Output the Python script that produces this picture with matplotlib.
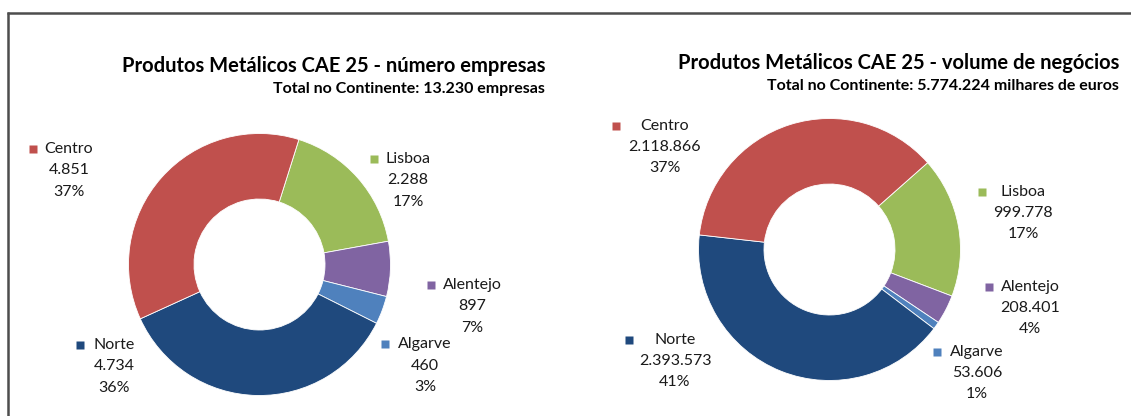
import matplotlib
matplotlib.use("Agg")
import matplotlib.pyplot as plt

# ---------------- data ----------------
regions = ["Norte", "Centro", "Lisboa", "Alentejo", "Algarve"]
empresas = [4734, 4851, 2288, 897, 460]
negocios = [2393573, 2118866, 999778, 208401, 53606]

title_left = "Produtos Metálicos CAE 25 - número empresas"
sub_left = "Total no Continente: 13.230 empresas"
title_right = "Produtos Metálicos CAE 25 - volume de negócios"
sub_right = "Total no Continente: 5.774.224 milhares de euros"

# ---------------- style ----------------
colors = {"Norte": "#1F497D", "Centro": "#C0504D", "Lisboa": "#9BBB59",
          "Alentejo": "#8064A2", "Algarve": "#4F81BD"}
draw_order = ["Lisboa", "Alentejo", "Algarve", "Norte", "Centro"]
FONT = "Lato"
TXT = "#1a1a1a"
LFS = 11.5

W, H = 1131, 416
fig = plt.figure(figsize=(W / 100, H / 100), dpi=100)
fig.patch.set_facecolor("white")

ov = fig.add_axes([0, 0, 1, 1])
ov.set_xlim(0, W)
ov.set_ylim(H, 0)
ov.axis("off")

# frame (partially visible border)
ov.plot([7, W], [12.5, 12.5], color="#4d4d4d", lw=1.8, solid_capstyle="butt")
ov.plot([7.5, 7.5], [12, H], color="#4d4d4d", lw=1.8, solid_capstyle="butt")


def fmt(v):
    return f"{v:,}".replace(",", ".")


def donut(cx, cy, R, vals, start):
    ax = fig.add_axes([(cx - R) / W, 1 - (cy + R) / H, 2 * R / W, 2 * R / H])
    d = dict(zip(regions, vals))
    ax.pie([d[r] for r in draw_order], colors=[colors[r] for r in draw_order],
           startangle=start, counterclock=False, radius=1,
           wedgeprops=dict(width=0.5, edgecolor="white", linewidth=0.6))
    ax.set_xlim(-1, 1)
    ax.set_ylim(-1, 1)
    ax.set_aspect("equal")
    ax.axis("off")


def labels(vals, spec, dy):
    total = sum(vals)
    d = dict(zip(regions, vals))
    for r, (cx, y, sq) in spec.items():
        v = d[r]
        pct = f"{round(v / total * 100)}%"
        ov.text(cx, y, r, ha="center", va="center", fontsize=LFS,
                family=FONT, color=TXT)
        ov.text(cx, y + dy, fmt(v), ha="center", va="center", fontsize=LFS,
                family=FONT, color=TXT)
        ov.text(cx, y + 2 * dy, pct, ha="center", va="center", fontsize=LFS,
                family=FONT, color=TXT)
        ov.plot([sq], [y], marker="s", ms=5.5, color=colors[r], mec="none")


# left chart
donut(259.5, 264.5, 131, empresas, 72.5)
ov.text(545, 66, title_left, ha="right", va="center", fontsize=14.5,
        family=FONT, weight="bold", color="#000000")
ov.text(545, 89, sub_left, ha="right", va="center", fontsize=11.5,
        family=FONT, weight="bold", color="#000000")
labels(empresas, {
    "Centro": (69, 149, 33),
    "Lisboa": (408, 159, 374),
    "Alentejo": (472, 285, 431),
    "Algarve": (425, 344, 385),
    "Norte": (114, 345, 80),
}, 21.5)

# right chart
donut(829.5, 249.5, 131, negocios, 41.5)
ov.text(1119, 63, title_right, ha="right", va="center", fontsize=14.5,
        family=FONT, weight="bold", color="#000000")
ov.text(1119, 86, sub_right, ha="right", va="center", fontsize=11.5,
        family=FONT, weight="bold", color="#000000")
labels(negocios, {
    "Centro": (665, 126, 616),
    "Lisboa": (1023, 192, 982),
    "Alentejo": (1030, 287, 989),
    "Algarve": (977, 352, 937),
    "Norte": (675, 340, 629),
}, 21.2)

fig.savefig("out.png", dpi=100, facecolor="white")
